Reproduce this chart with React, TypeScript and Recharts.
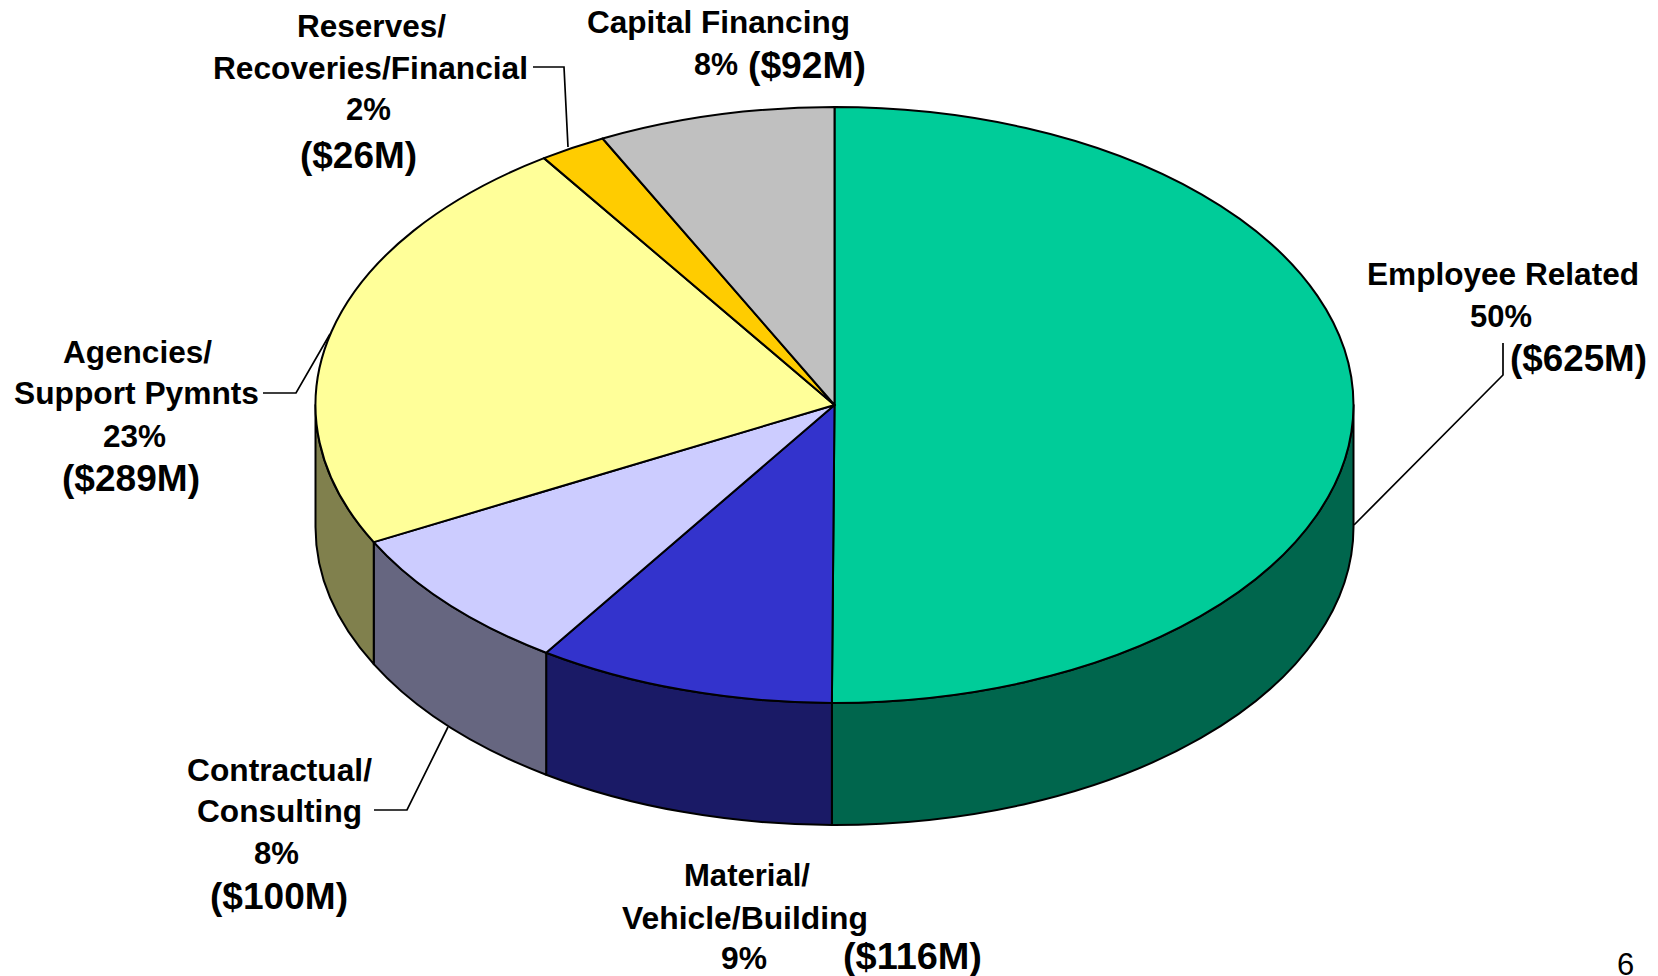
import { Pie, PieChart } from 'recharts'

const categories = [
  'Employee Related',
  'Material/Vehicle/Building',
  'Contractual/Consulting',
  'Agencies/Support Pymnts',
  'Reserves/Recoveries/Financial',
  'Capital Financing',
]
const values = [625, 116, 100, 289, 26, 92]
const topColors = ['#00CC99', '#3333CC', '#CCCCFF', '#FFFF99', '#FFCC00', '#C0C0C0']
const sideColors = ['#00664D', '#1A1A66', '#666680', '#80804D', '#806600', '#606060']

const WIDTH = 1658
const HEIGHT = 976
const CX = 834.5
const CY = 405
const RX = 519
const TILT = 0.574 // ellipse height / width of the pie top
const DEPTH = 122
const INK = '#000000'
const FONT = '"Liberation Sans", Arial, sans-serif'

const topRows = categories.map((name, i) => ({ name, value: values[i], fill: topColors[i] }))
const sideRows = categories.map((name, i) => ({ name, value: values[i], fill: sideColors[i] }))

// text, left edge, right edge, baseline, font size
const labelLines: Array<[string, number, number, number, number]> = [
  ['Reserves/', 297, 446, 37, 31],
  ['Recoveries/Financial', 213, 528, 79, 31],
  ['2%', 346, 391, 120, 31],
  ['($26M)', 300, 417, 168, 36],
  ['Capital Financing', 587, 850, 33, 31],
  ['8%', 694, 738, 75, 31],
  ['($92M)', 748, 866, 78, 36],
  ['Employee Related', 1367, 1639, 285, 31],
  ['50%', 1470, 1532, 327, 31],
  ['($625M)', 1510, 1647, 371, 36],
  ['Agencies/', 63, 212, 363, 31],
  ['Support Pymnts', 14, 259, 404, 31],
  ['23%', 103, 166, 447, 31],
  ['($289M)', 62, 200, 491, 36],
  ['Contractual/', 187, 372, 781, 31],
  ['Consulting', 197, 362, 822, 31],
  ['8%', 254, 299, 864, 31],
  ['($100M)', 210, 348, 909, 36],
  ['Material/', 684, 810, 886, 31],
  ['Vehicle/Building', 622, 868, 929, 31],
  ['9%', 721, 767, 969, 31],
  ['($116M)', 843, 982, 969, 36],
]

const leaderLines = [
  '533,67 564,67 568,147',
  '1503,343 1503,375 1354,525',
  '263,393 296,393 330,334',
  '374,810 407,810 448,727',
]

function rim(cx: number, cy: number, r: number, deg: number) {
  const a = (deg * Math.PI) / 180
  return { x: cx + r * Math.cos(a), y: cy - r * TILT * Math.sin(a) }
}

function TopSlice(props: any) {
  const { cx, cy, outerRadius: r, startAngle, endAngle, fill } = props
  const from = rim(cx, cy, r, startAngle)
  const to = rim(cx, cy, r, endAngle)
  const large = Math.abs(startAngle - endAngle) > 180 ? 1 : 0
  return (
    <path
      d={`M${cx},${cy}L${from.x},${from.y}A${r},${r * TILT} 0 ${large} 1 ${to.x},${to.y}Z`}
      fill={fill}
      stroke={INK}
      strokeWidth={2}
      strokeLinejoin="round"
    />
  )
}

// wall below the rim, only the part facing the viewer (-180..0 degrees)
function SideSlice(props: any) {
  const { cx, cy, outerRadius: r, startAngle, endAngle, fill } = props
  const a0 = Math.min(startAngle, 0)
  const a1 = Math.max(endAngle, -180)
  if (a1 >= a0) return null
  const p0 = rim(cx, cy, r, a0)
  const p1 = rim(cx, cy, r, a1)
  const ry = r * TILT
  return (
    <path
      d={`M${p0.x},${p0.y}A${r},${ry} 0 0 1 ${p1.x},${p1.y}L${p1.x},${p1.y + DEPTH}A${r},${ry} 0 0 0 ${p0.x},${p0.y + DEPTH}Z`}
      fill={fill}
      stroke={INK}
      strokeWidth={2}
      strokeLinejoin="round"
    />
  )
}

export default function App() {
  return (
    <div style={{ position: 'fixed', left: 0, top: 0, width: WIDTH, height: HEIGHT, background: '#fff' }}>
      <PieChart width={WIDTH} height={HEIGHT} margin={{ top: 0, right: 0, bottom: 0, left: 0 }}>
        <Pie
          data={sideRows}
          dataKey="value"
          nameKey="name"
          cx={CX}
          cy={CY}
          outerRadius={RX}
          startAngle={90}
          endAngle={-270}
          isAnimationActive={false}
          shape={SideSlice}
        />
        <Pie
          data={topRows}
          dataKey="value"
          nameKey="name"
          cx={CX}
          cy={CY}
          outerRadius={RX}
          startAngle={90}
          endAngle={-270}
          isAnimationActive={false}
          shape={TopSlice}
        />
        {leaderLines.map((points) => (
          <polyline key={points} points={points} fill="none" stroke={INK} strokeWidth={1.7} />
        ))}
        {labelLines.map(([text, left, right, y, size]) => (
          <text
            key={`${text}-${y}`}
            x={left}
            y={y}
            fontFamily={FONT}
            fontWeight={700}
            fontSize={size}
            fill={INK}
            textLength={right - left}
            lengthAdjust="spacingAndGlyphs"
          >
            {text}
          </text>
        ))}
        <text x={1617} y={975} fontFamily={FONT} fontSize={31} fill={INK}>
          6
        </text>
      </PieChart>
    </div>
  )
}
